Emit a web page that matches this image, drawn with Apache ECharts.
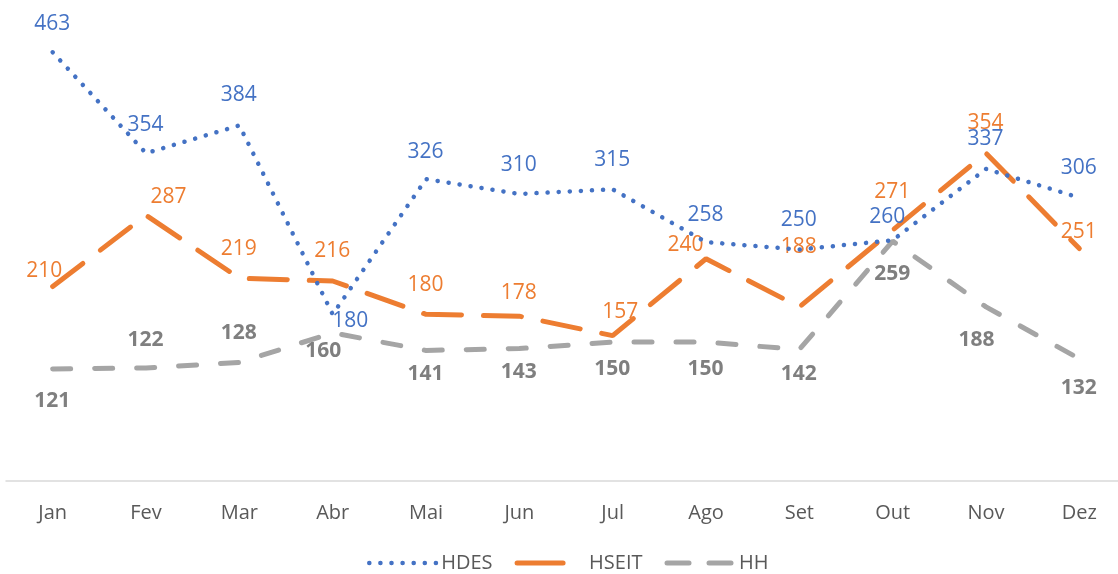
<!DOCTYPE html>
<html>
<head>
<meta charset="utf-8">
<script src="https://cdn.jsdelivr.net/npm/echarts@6/dist/echarts.min.js"></script>
<style>
  html, body { margin: 0; padding: 0; background: #fff; }
  #chart { width: 1118px; height: 574px; }
</style>
</head>
<body>
<div id="chart"></div>
<script>
const months = ['Jan', 'Fev', 'Mar', 'Abr', 'Mai', 'Jun', 'Jul', 'Ago', 'Set', 'Out', 'Nov', 'Dez'];
const hdes = [463, 354, 384, 180, 326, 310, 315, 258, 250, 260, 337, 306];
const hseit = [210, 287, 219, 216, 180, 178, 157, 240, 188, 271, 354, 251];
const hh = [121, 122, 128, 160, 141, 143, 150, 150, 142, 259, 188, 132];

// label offsets [dx, dy] per point, relative to the point
const hdesOff = [[0, -28], [0, -28], [0, -30], [18, 7], [0, -27], [0, -28], [0, -29], [0, -27], [0, -29], [-5, -23], [0, -29], [0, -29]];
const hseitOff = [[-8, -15], [23, -18], [0, -29], [0, -29], [0, -29], [0, -23], [8, -23], [-20, -13], [0, -59], [0, -38], [0, -30], [0, -16]];
const hhOff = [[0, 33], [0, -28], [0, -29], [-9, 19], [0, 24], [0, 24], [0, 27], [0, 27], [0, 25], [0, 33], [-9, 34], [0, 30]];

const font = 'Open Sans';
const fs = 20;
const labelFs = 21;

const styles = {
  HDES: { color: '#4472C4', width: 4.5, type: [0.1, 11], cap: 'round' },
  HSEIT: { color: '#ED7D31', width: 5, type: [38, 22], cap: 'round' },
  HH: { color: '#A5A5A5', width: 5, type: [18, 24], cap: 'round' }
};

function build(values, offs) {
  return values.map((v, i) => ({
    value: v,
    label: { position: [offs[i][0], offs[i][1]], align: 'center', verticalAlign: 'middle' }
  }));
}

function series(name, values, offs, labelColor, bold, z) {
  return {
    name: name,
    type: 'line',
    data: build(values, offs),
    symbol: 'circle',
    symbolSize: 1,
    showSymbol: true,
    z: z,
    lineStyle: styles[name],
    itemStyle: { color: 'rgba(0,0,0,0)', borderWidth: 0 },
    labelLayout: { hideOverlap: false },
    label: {
      show: true, color: labelColor,
      fontSize: labelFs, fontFamily: font, fontWeight: bold ? 'bold' : 'normal'
    }
  };
}

const chart = echarts.init(document.getElementById('chart'));
chart.setOption({
  animation: false,
  grid: { left: 6, width: 1120, top: 18, bottom: 93, outerBoundsMode: 'none', containLabel: false },
  xAxis: {
    type: 'category',
    data: months,
    boundaryGap: true,
    axisLine: { lineStyle: { color: '#d9d9d9', width: 1.5 } },
    axisTick: { show: false },
    axisLabel: { color: '#595959', fontSize: fs, fontFamily: font, margin: 22 }
  },
  yAxis: {
    type: 'value',
    min: 0,
    max: 500,
    show: false,
    splitLine: { show: false }
  },
  legend: {
    bottom: -4,
    left: 362,
    itemWidth: 67,
    itemHeight: 10,
    itemGap: 22,
    textStyle: { color: '#595959', fontSize: fs, fontFamily: font },
    data: [
      { name: 'HDES', lineStyle: Object.assign({}, styles.HDES) },
      { name: 'HSEIT', lineStyle: Object.assign({}, styles.HSEIT, { type: [46, 40] }) },
      { name: 'HH', lineStyle: Object.assign({}, styles.HH, { type: [22, 20] }) }
    ]
  },
  series: [
    series('HDES', hdes, hdesOff, '#4472C4', false, 3),
    series('HSEIT', hseit, hseitOff, '#ED7D31', false, 2),
    series('HH', hh, hhOff, '#7f7f7f', true, 1)
  ]
});
</script>
</body>
</html>
